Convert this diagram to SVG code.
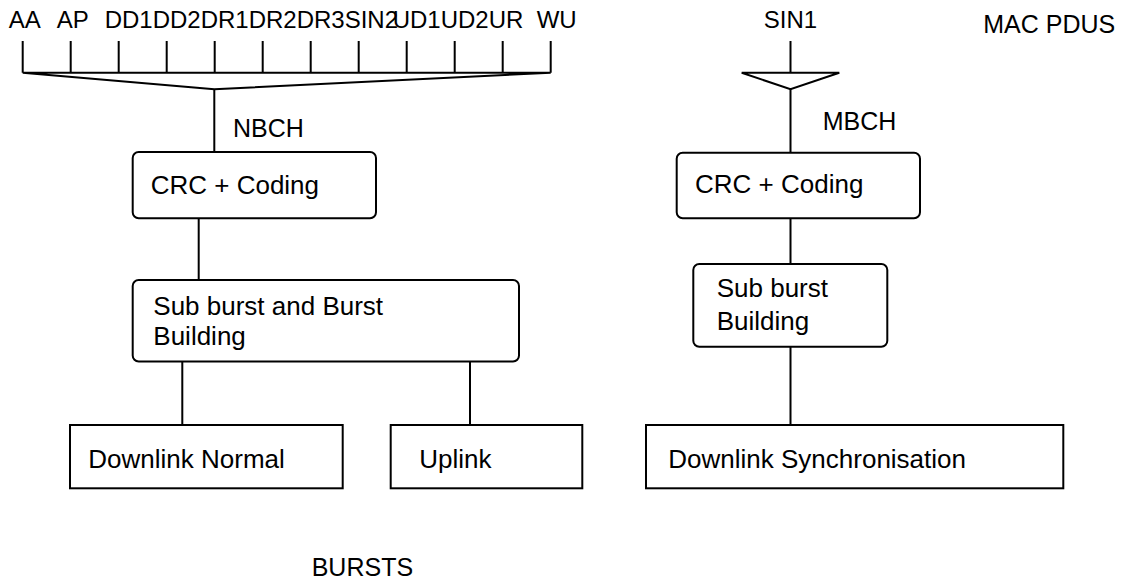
<svg xmlns="http://www.w3.org/2000/svg" width="1127" height="583" viewBox="0 0 1127 583">
<style>
text{font-family:"Liberation Sans",Arial,sans-serif;fill:#000}
.lbl{font-size:24px}
.big{font-size:25px}
.box{font-size:26px}
.ln{stroke:#000;stroke-width:2;fill:none}
.node{stroke:#000;stroke-width:2;fill:#fff}
</style>
<rect width="1127" height="583" fill="#fff"/>
<g id="connectors">
<path class="ln" d="M22.7 41V72.7M70.7 41V72.7M118.7 41V72.7M166.7 41V72.7M214.7 41V72.7M262.7 41V72.7M310.7 41V72.7M358.7 41V72.7M406.7 41V72.7M454.7 41V72.7M502.7 41V72.7M550.7 41V72.7"/>
<path class="ln" d="M22.7 72.7H550.7L214.3 89.3L22.7 72.7"/>
<path class="ln" d="M214.3 89.3V152"/>
<path class="ln" d="M198.7 218V280"/>
<path class="ln" d="M182.3 361V425M470 361V425"/>
<path class="ln" d="M790.5 41V72.7"/>
<path class="ln" d="M741.7 72.7H839.3L790.5 89.3Z"/>
<path class="ln" d="M790.5 89.3V153M790.5 218V264M790.5 346V425"/>
</g>
<g id="inputs">
<text class="lbl" x="8.7" y="28.3">AA</text>
<text class="lbl" x="56.7" y="28.3">AP</text>
<text class="lbl" x="104.7" y="28.3">DD1</text>
<text class="lbl" x="152.7" y="28.3">DD2</text>
<text class="lbl" x="200.7" y="28.3">DR1</text>
<text class="lbl" x="248.7" y="28.3">DR2</text>
<text class="lbl" x="296.7" y="28.3">DR3</text>
<text class="lbl" x="344.7" y="28.3">SIN2</text>
<text class="lbl" x="392.7" y="28.3">UD1</text>
<text class="lbl" x="440.7" y="28.3">UD2</text>
<text class="lbl" x="488.7" y="28.3">UR</text>
<text class="lbl" x="536.7" y="28.3">WU</text>
<text class="lbl" x="790.5" y="28.3" text-anchor="middle">SIN1</text>
</g>
<g id="labels">
<text class="big" x="233" y="137">NBCH</text>
<text class="big" x="822.7" y="130">MBCH</text>
<text class="big" x="983.3" y="33.3">MAC PDUS</text>
<text class="big" x="311.7" y="576">BURSTS</text>
</g>
<g id="crc-left">
<rect class="node" x="132.7" y="152" width="243.3" height="66.3" rx="6"/>
<text class="box" x="150.7" y="194">CRC + Coding</text>
</g>
<g id="burst-left">
<rect class="node" x="132.7" y="280" width="386.3" height="81.5" rx="6"/>
<text class="box" x="153.3" y="315">Sub burst and Burst</text>
<text class="box" x="153.3" y="345">Building</text>
</g>
<g id="downlink-normal">
<rect class="node" x="70" y="425" width="272.7" height="63.3"/>
<text class="box" x="88.3" y="468">Downlink Normal</text>
</g>
<g id="uplink">
<rect class="node" x="390.7" y="425" width="191.6" height="63.3"/>
<text class="box" x="419.3" y="468">Uplink</text>
</g>
<g id="crc-right">
<rect class="node" x="676.7" y="152.7" width="243.3" height="65.6" rx="6"/>
<text class="box" x="695" y="193.3">CRC + Coding</text>
</g>
<g id="burst-right">
<rect class="node" x="693.3" y="264" width="194" height="82.7" rx="6"/>
<text class="box" x="716.7" y="297">Sub burst</text>
<text class="box" x="716.7" y="330">Building</text>
</g>
<g id="downlink-sync">
<rect class="node" x="646" y="425" width="417.3" height="63.3"/>
<text class="box" x="668.3" y="468">Downlink Synchronisation</text>
</g>
</svg>
